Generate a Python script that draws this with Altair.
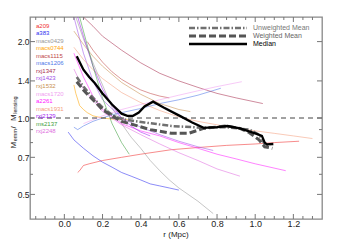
import altair as alt
import pandas as pd

FONT = "Liberation Sans"

names = ["a209", "a383", "macs0429", "macs0744", "macs1115", "macs1206", "rxj1347",
         "rxj1423", "rxj1532", "macs1720", "a2261", "macs1931", "rxj2129", "ms2137", "rxj2248"]
colors = ["#f03030", "#3030f0", "#999999", "#ffa500", "#c04848", "#5078e8", "#a83050",
          "#a050e8", "#c89050", "#f0a0f0", "#ff20ff", "#f4a080", "#a020f0", "#40a040", "#e070e0"]

# cluster profiles: radius (Mpc) and mass ratio
r_a209 = [0.07, 0.08, 0.10, 0.13, 0.20, 0.30, 0.40, 0.56, 0.70, 0.85, 1.00, 1.10, 1.23]
m_a209 = [0.61, 0.62, 0.65, 0.66, 0.68, 0.70, 0.72, 0.75, 0.765, 0.78, 0.79, 0.80, 0.81]
r_a383 = [0.02, 0.05, 0.10, 0.15, 0.20, 0.25, 0.30, 0.35, 0.40, 0.45, 0.50, 0.55, 0.60]
m_a383 = [0.88, 0.82, 0.76, 0.71, 0.67, 0.64, 0.61, 0.59, 0.57, 0.55, 0.54, 0.53, 0.52]
r_macs0429 = [0.06, 0.10, 0.15, 0.20, 0.25, 0.30, 0.35, 0.40, 0.45, 0.50, 0.55, 0.60, 0.70, 0.78]
m_macs0429 = [2.5, 2.05, 1.65, 1.35, 1.1, 0.95, 0.84, 0.76, 0.68, 0.62, 0.57, 0.53, 0.47, 0.42]
r_macs0744 = [0.05, 0.06, 0.08, 0.10, 0.12, 0.15, 0.20, 0.25, 0.30, 0.35]
m_macs0744 = [1.35, 1.25, 1.12, 1.08, 1.05, 1.02, 1.0, 0.99, 0.99, 0.98]
r_macs1115 = [0.12, 0.15, 0.20, 0.25, 0.30, 0.35, 0.40, 0.45, 0.50, 0.55]
m_macs1115 = [2.0, 1.85, 1.66, 1.52, 1.42, 1.35, 1.29, 1.25, 1.22, 1.2]
r_macs1206 = [0.05, 0.07, 0.10, 0.15, 0.20, 0.25, 0.30, 0.40, 0.50, 0.60, 0.70, 0.82]
m_macs1206 = [0.92, 0.90, 0.93, 0.97, 1.0, 1.03, 1.05, 1.09, 1.14, 1.18, 1.23, 1.31]
r_rxj1347 = [0.10, 0.15, 0.20, 0.30, 0.40, 0.50, 0.60, 0.70, 0.80, 0.90, 1.04]
m_rxj1347 = [2.5, 2.3, 2.1, 1.85, 1.65, 1.5, 1.4, 1.32, 1.25, 1.2, 1.14]
r_rxj1423 = [0.05, 0.10, 0.15, 0.20, 0.30, 0.40, 0.50, 0.60, 0.70, 0.78]
m_rxj1423 = [2.5, 1.8, 1.4, 1.18, 1.0, 0.92, 0.86, 0.81, 0.77, 0.745]
r_rxj1532 = [0.05, 0.10, 0.15, 0.20, 0.30, 0.40, 0.50, 0.60, 0.66]
m_rxj1532 = [2.2, 1.95, 1.75, 1.6, 1.38, 1.24, 1.14, 1.08, 1.06]
r_macs1720 = [0.10, 0.20, 0.30, 0.40, 0.50, 0.60, 0.70, 0.80, 0.93]
m_macs1720 = [0.95, 1.02, 1.08, 1.13, 1.18, 1.23, 1.28, 1.33, 1.39]
r_a2261 = [0.05, 0.10, 0.15, 0.20, 0.30, 0.40, 0.50, 0.60, 0.70, 0.80, 0.90, 1.00, 1.16]
m_a2261 = [1.8, 1.45, 1.22, 1.08, 0.95, 0.89, 0.85, 0.80, 0.76, 0.72, 0.69, 0.66, 0.62]
r_macs1931 = [0.05, 0.10, 0.15, 0.20, 0.30, 0.40, 0.50, 0.60, 0.70, 0.80, 0.90, 1.00, 1.10, 1.20, 1.30]
m_macs1931 = [1.9, 1.7, 1.55, 1.43, 1.26, 1.15, 1.07, 1.01, 0.97, 0.94, 0.91, 0.89, 0.87, 0.85, 0.83]
r_rxj2129 = [0.07, 0.10, 0.15, 0.20, 0.25, 0.30, 0.35, 0.40, 0.45]
m_rxj2129 = [2.5, 2.1, 1.6, 1.3, 1.12, 1.0, 0.93, 0.88, 0.85]
r_ms2137 = [0.08, 0.10, 0.15, 0.20, 0.25, 0.30, 0.34]
m_ms2137 = [2.5, 2.2, 1.6, 1.2, 0.95, 0.8, 0.72]
r_rxj2248 = [0.05, 0.10, 0.20, 0.30, 0.40, 0.50, 0.60, 0.70, 0.80, 0.92]
m_rxj2248 = [1.56, 1.3, 1.06, 0.94, 0.86, 0.79, 0.73, 0.68, 0.63, 0.59]

r_lists = [r_a209, r_a383, r_macs0429, r_macs0744, r_macs1115, r_macs1206, r_rxj1347, r_rxj1423,
           r_rxj1532, r_macs1720, r_a2261, r_macs1931, r_rxj2129, r_ms2137, r_rxj2248]
m_lists = [m_a209, m_a383, m_macs0429, m_macs0744, m_macs1115, m_macs1206, m_rxj1347, m_rxj1423,
           m_rxj1532, m_macs1720, m_a2261, m_macs1931, m_rxj2129, m_ms2137, m_rxj2248]

# summary curves
r_median = [0.065, 0.10, 0.13, 0.16, 0.20, 0.25, 0.30, 0.33, 0.36, 0.39, 0.42, 0.465, 0.52, 0.61,
            0.67, 0.73, 0.80, 0.855, 0.92, 0.96, 1.00, 1.035, 1.05, 1.06, 1.095]
m_median = [1.75, 1.55, 1.45, 1.37, 1.25, 1.13, 1.04, 1.02, 1.02, 1.05, 1.11, 1.16, 1.10, 1.015,
            0.96, 0.915, 0.92, 0.93, 0.91, 0.89, 0.87, 0.85, 0.80, 0.787, 0.79]
r_wmean = [0.065, 0.10, 0.13, 0.16, 0.20, 0.25, 0.30, 0.365, 0.45, 0.56, 0.65, 0.73, 0.85, 0.92,
           0.97, 1.02, 1.05, 1.09]
m_wmean = [1.39, 1.29, 1.22, 1.16, 1.08, 1.02, 0.97, 0.94, 0.90, 0.87, 0.87, 0.91, 0.93, 0.91,
           0.875, 0.82, 0.77, 0.76]
r_umean = [0.065, 0.10, 0.13, 0.16, 0.20, 0.25, 0.30, 0.42, 0.56, 0.73, 0.85, 0.97, 1.02, 1.05, 1.08]
m_umean = [1.45, 1.33, 1.25, 1.18, 1.10, 1.03, 0.99, 0.96, 0.93, 0.915, 0.92, 0.90, 0.86, 0.79, 0.78]

legend_labels = ["Unweighted Mean", "Weighted Mean", "Median"]

x_labels = [0.0, 0.2, 0.4, 0.6, 0.8, 1.0, 1.2]
x_minor = [-0.15, -0.1, -0.05, 0.05, 0.1, 0.15, 0.25, 0.3, 0.35, 0.45, 0.5, 0.55, 0.65, 0.7, 0.75,
           0.85, 0.9, 0.95, 1.05, 1.1, 1.15, 1.25, 1.3]
y_labels = [0.5, 0.7, 1.0, 1.4, 2.0]
y_minor = [0.6, 0.8, 0.9]

W, H = 292, 202

X = alt.X("r:Q", scale=alt.Scale(domain=[-0.18, 1.35], nice=False, zero=False),
          axis=alt.Axis(values=x_labels, labelExpr="format(datum.value, '.1f')", ticks=False,
                        tickSize=0, domain=False, grid=False, labelFontSize=9, labelPadding=0.5,
                        labelColor="#222", labelFont=FONT, labelOverlap=False, title=None))
Y = alt.Y("ratio:Q", scale=alt.Scale(type="log", domain=[0.4, 2.5], nice=False),
          axis=alt.Axis(values=y_labels, labelExpr="format(datum.value, '.1f')", ticks=False,
                        tickSize=0, domain=False, grid=False, labelFontSize=8.5, labelPadding=1,
                        labelColor="#222", labelFont=FONT, labelOverlap=False, title=None))

rows = []
for name, rs, ms in zip(names, r_lists, m_lists):
    for k, (r, m) in enumerate(zip(rs, ms)):
        rows.append({"cluster": name, "r": r, "ratio": m, "k": k})
df = pd.DataFrame(rows)

layers = []
layers.append(
    alt.Chart(df).mark_line(strokeWidth=0.8, opacity=0.7, clip=True).encode(
        x=X, y=Y,
        color=alt.Color("cluster:N", scale=alt.Scale(domain=names, range=colors), legend=None),
        detail="cluster:N", order="k:Q")
)

# reference line at 1
layers.append(alt.Chart(pd.DataFrame({"ratio": [1.0]})).mark_rule(
    color="#444", strokeWidth=1, strokeDash=[5, 4]).encode(y=Y))

def curve(rs, ms):
    return pd.DataFrame({"r": rs, "ratio": ms, "k": list(range(len(rs)))})

layers.append(alt.Chart(curve(r_umean, m_umean)).mark_line(
    color="#707070", strokeWidth=2.5, strokeDash=[6, 2, 1.5, 2], clip=True).encode(x=X, y=Y, order="k:Q"))
layers.append(alt.Chart(curve(r_wmean, m_wmean)).mark_line(
    color="#555555", strokeWidth=3, strokeDash=[7, 3], clip=True).encode(x=X, y=Y, order="k:Q"))
layers.append(alt.Chart(curve(r_median, m_median)).mark_line(
    color="#000000", strokeWidth=2.3, clip=True).encode(x=X, y=Y, order="k:Q"))

# inward ticks on all four sides
TC = "#777"
for vals, size in [(x_labels, 5), (x_minor, 3)]:
    d = pd.DataFrame({"r": vals})
    layers.append(alt.Chart(d).mark_rule(color=TC, strokeWidth=1).encode(
        x=X, y=alt.value(H), y2=alt.value(H - size)))
    layers.append(alt.Chart(d).mark_rule(color=TC, strokeWidth=1).encode(
        x=X, y=alt.value(0), y2=alt.value(size)))
for vals, size in [(y_labels, 5), (y_minor, 3)]:
    d = pd.DataFrame({"ratio": vals})
    layers.append(alt.Chart(d).mark_rule(color=TC, strokeWidth=1).encode(
        y=Y, x=alt.value(0), x2=alt.value(size)))
    layers.append(alt.Chart(d).mark_rule(color=TC, strokeWidth=1).encode(
        y=Y, x=alt.value(W), x2=alt.value(W - size)))

one = pd.DataFrame({"a": [0]})

# cluster name list
for i, (name, col) in enumerate(zip(names, colors)):
    layers.append(alt.Chart(one).mark_text(
        text=name, color=col, fontSize=6, font=FONT, align="left", baseline="middle").encode(
        x=alt.value(6), y=alt.value(8.6 + i * 7.55)))

# legend
leg_styles = [dict(color="#707070", strokeWidth=2.5, strokeDash=[6, 2, 1.5, 2]),
              dict(color="#555555", strokeWidth=3, strokeDash=[7, 3]),
              dict(color="#000000", strokeWidth=2.3)]
leg_text_colors = ["#777777", "#666666", "#000000"]
for i, (lab, st, tc) in enumerate(zip(legend_labels, leg_styles, leg_text_colors)):
    yy = 11 + i * 8
    layers.append(alt.Chart(one).mark_rule(**st).encode(
        x=alt.value(159), x2=alt.value(217), y=alt.value(yy)))
    layers.append(alt.Chart(one).mark_text(
        text=lab, color=tc, fontSize=7, font=FONT, align="left", baseline="middle").encode(
        x=alt.value(223), y=alt.value(yy)))

# x-axis title
layers.append(alt.Chart(one).mark_text(
    text="r  (Mpc)", fontSize=8, font=FONT, color="#222", align="center",
    baseline="alphabetic").encode(x=alt.value(W / 2), y=alt.value(H + 18.3)))

# y-axis title built from pieces (read upward): M_emm / M_lensing
pieces = [("M", 8, False, 6.7), ("emm", 5.5, True, 12.2), (" / ", 8, False, 6.7),
          ("M", 8, False, 6.7), ("lensing", 5.5, True, 17.4)]
ypos = 131.5
for txt, fs, sub, w in pieces:
    layers.append(alt.Chart(one).mark_text(
        text=txt, fontSize=fs, font=FONT, color="#222", angle=270, align="left",
        baseline="alphabetic").encode(
        x=alt.value(-12.8 if sub else -14.5), y=alt.value(ypos)))
    ypos -= w + 0.6

chart = alt.layer(*layers).properties(
    width=W, height=H,
    autosize=alt.AutoSizeParams(type="none"),
    padding={"left": 22, "top": 9, "right": 19, "bottom": 20},
).configure_view(stroke="#888888", strokeWidth=1.3)

chart.save("out.html", embed_options={"renderer": "svg", "actions": False})
